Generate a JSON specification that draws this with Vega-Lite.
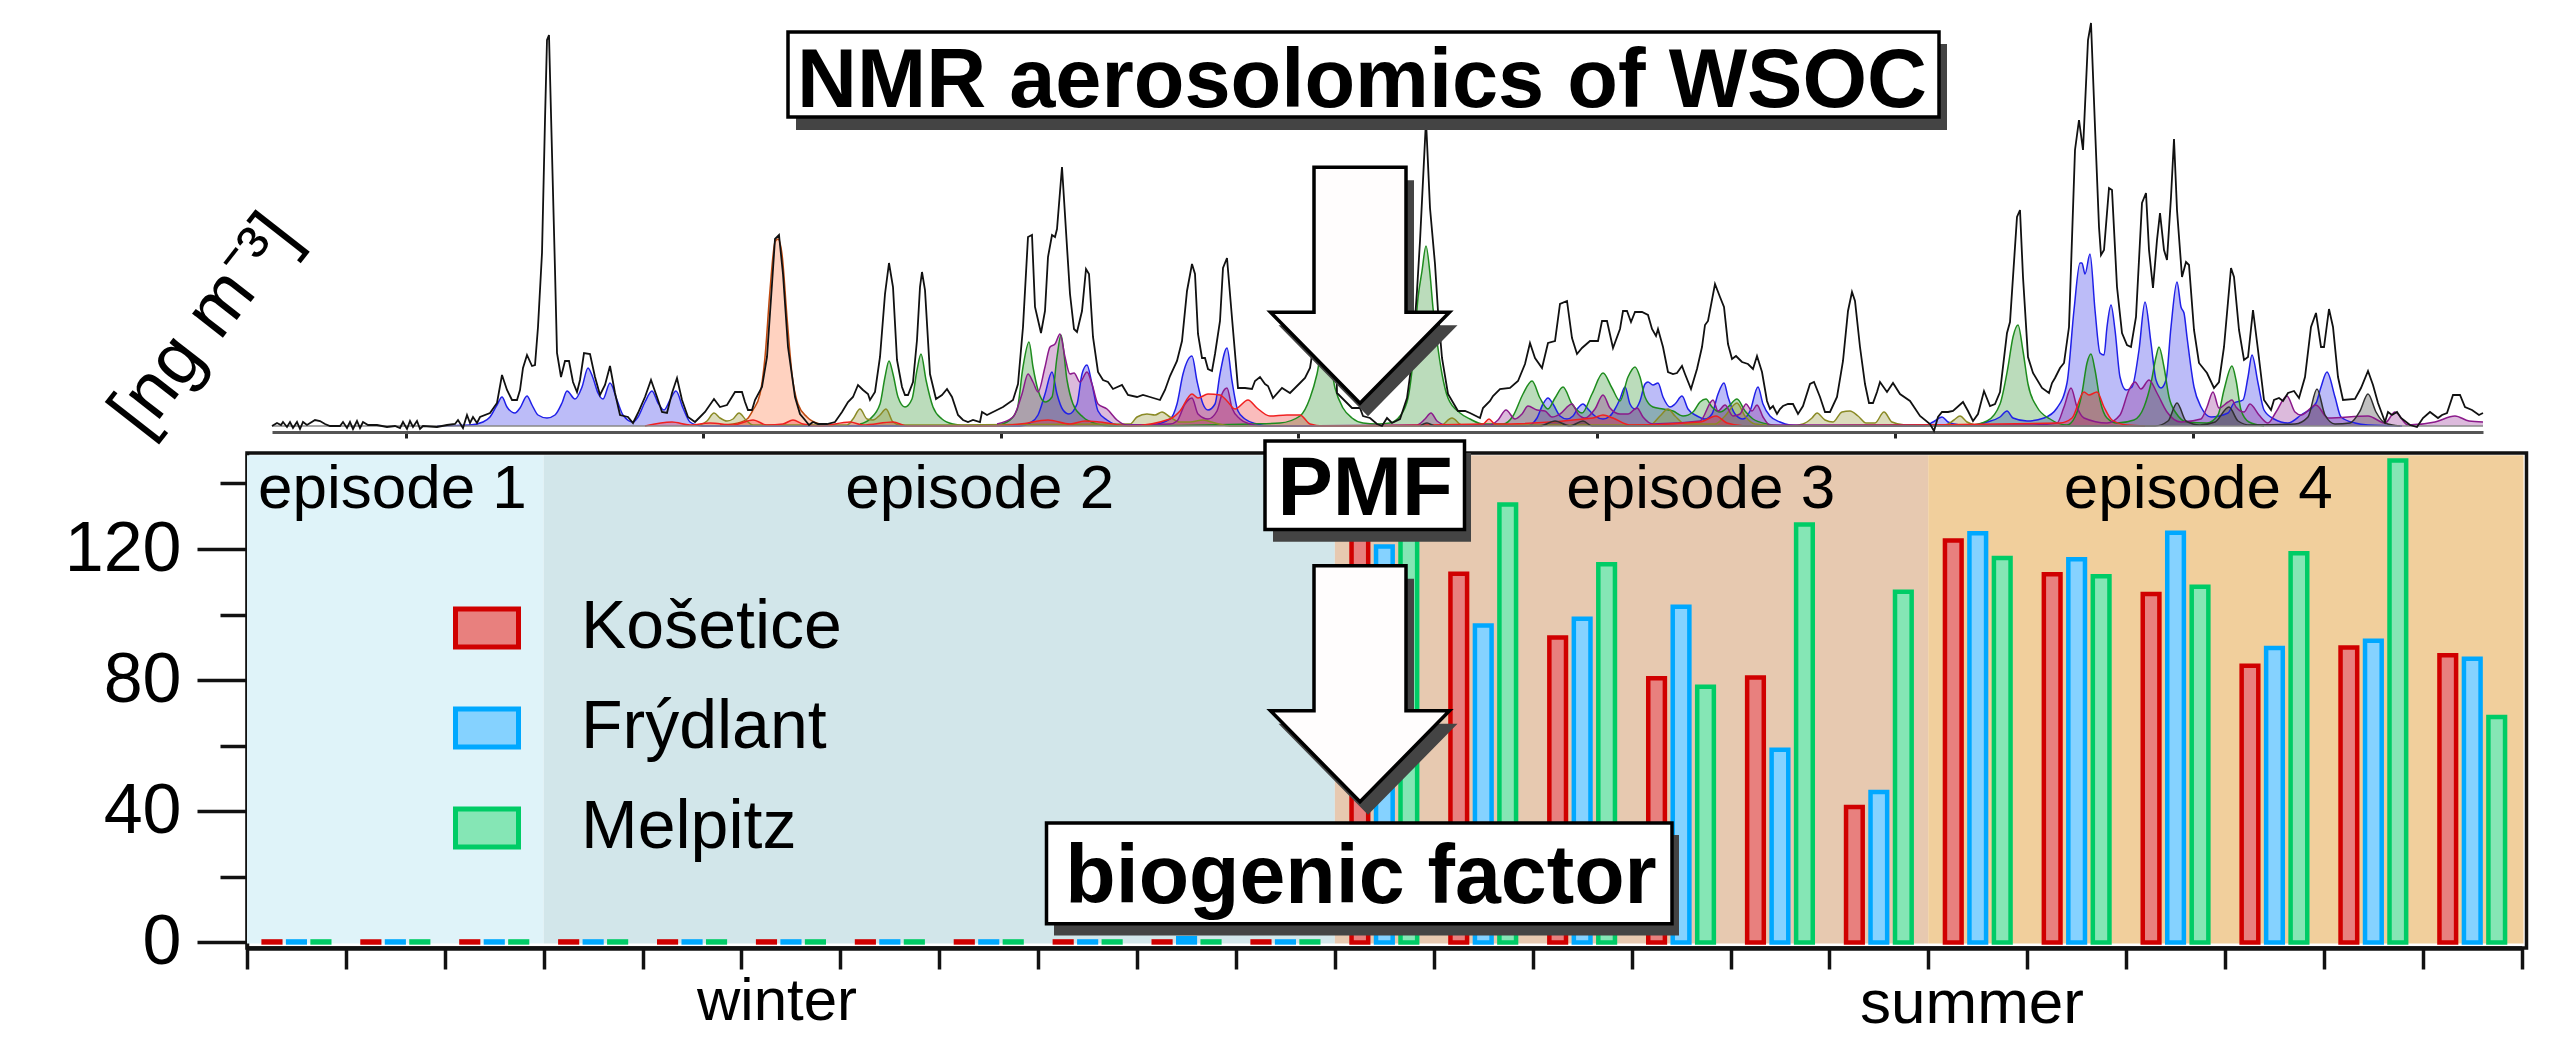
{"$schema":"https://vega.github.io/schema/vega-lite/v6.json","width":2279.5,"height":495,"autosize":{"type":"none"},"padding":{"left":247,"top":453,"right":33.5,"bottom":93},"background":"white","view":{"stroke":"#111111","strokeWidth":3.5,"fill":null},"config":{"font":"Liberation Sans","axis":{"grid":false,"title":null},"text":{"font":"Liberation Sans","color":"black"}},
"datasets":{
"note":[{"kind":"annotation"}],
"episodes":[{"episode":"episode 1","from":0,"to":3,"labelAt":1.47},{"episode":"episode 2","from":3,"to":11,"labelAt":7.41},{"episode":"episode 3","from":11,"to":17,"labelAt":14.7},{"episode":"episode 4","from":17,"to":23.02,"labelAt":19.73}],
"bars":[
{"sample":1,"station":"Košetice","value":0.3},{"sample":1,"station":"Frýdlant","value":0.3},{"sample":1,"station":"Melpitz","value":0.3},
{"sample":2,"station":"Košetice","value":0.3},{"sample":2,"station":"Frýdlant","value":0.3},{"sample":2,"station":"Melpitz","value":0.3},
{"sample":3,"station":"Košetice","value":0.3},{"sample":3,"station":"Frýdlant","value":0.3},{"sample":3,"station":"Melpitz","value":0.3},
{"sample":4,"station":"Košetice","value":0.3},{"sample":4,"station":"Frýdlant","value":0.3},{"sample":4,"station":"Melpitz","value":0.3},
{"sample":5,"station":"Košetice","value":0.3},{"sample":5,"station":"Frýdlant","value":0.3},{"sample":5,"station":"Melpitz","value":0.3},
{"sample":6,"station":"Košetice","value":0.3},{"sample":6,"station":"Frýdlant","value":0.3},{"sample":6,"station":"Melpitz","value":0.3},
{"sample":7,"station":"Košetice","value":0.3},{"sample":7,"station":"Frýdlant","value":0.3},{"sample":7,"station":"Melpitz","value":0.3},
{"sample":8,"station":"Košetice","value":0.3},{"sample":8,"station":"Frýdlant","value":0.3},{"sample":8,"station":"Melpitz","value":0.3},
{"sample":9,"station":"Košetice","value":0.3},{"sample":9,"station":"Frýdlant","value":0.3},{"sample":9,"station":"Melpitz","value":0.3},
{"sample":10,"station":"Košetice","value":0.3},{"sample":10,"station":"Frýdlant","value":1.3},{"sample":10,"station":"Melpitz","value":0.3},
{"sample":11,"station":"Košetice","value":0.3},{"sample":11,"station":"Frýdlant","value":0.3},{"sample":11,"station":"Melpitz","value":0.3},
{"sample":12,"station":"Košetice","value":123.6},{"sample":12,"station":"Frýdlant","value":120.8},{"sample":12,"station":"Melpitz","value":127},
{"sample":13,"station":"Košetice","value":112.5},{"sample":13,"station":"Frýdlant","value":96.7},{"sample":13,"station":"Melpitz","value":133.6},
{"sample":14,"station":"Košetice","value":93},{"sample":14,"station":"Frýdlant","value":98.7},{"sample":14,"station":"Melpitz","value":115.4},
{"sample":15,"station":"Košetice","value":80.6},{"sample":15,"station":"Frýdlant","value":102.4},{"sample":15,"station":"Melpitz","value":78},
{"sample":16,"station":"Košetice","value":80.8},{"sample":16,"station":"Frýdlant","value":58.8},{"sample":16,"station":"Melpitz","value":127.5},
{"sample":17,"station":"Košetice","value":41.3},{"sample":17,"station":"Frýdlant","value":45.9},{"sample":17,"station":"Melpitz","value":107},
{"sample":18,"station":"Košetice","value":122.6},{"sample":18,"station":"Frýdlant","value":124.8},{"sample":18,"station":"Melpitz","value":117.3},
{"sample":19,"station":"Košetice","value":112.3},{"sample":19,"station":"Frýdlant","value":116.9},{"sample":19,"station":"Melpitz","value":111.7},
{"sample":20,"station":"Košetice","value":106.3},{"sample":20,"station":"Frýdlant","value":125},{"sample":20,"station":"Melpitz","value":108.5},
{"sample":21,"station":"Košetice","value":84.4},{"sample":21,"station":"Frýdlant","value":89.8},{"sample":21,"station":"Melpitz","value":118.7},
{"sample":22,"station":"Košetice","value":90},{"sample":22,"station":"Frýdlant","value":92},{"sample":22,"station":"Melpitz","value":147},
{"sample":23,"station":"Košetice","value":87.6},{"sample":23,"station":"Frýdlant","value":86.5},{"sample":23,"station":"Melpitz","value":68.8}],
"minor":[{"tick":20},{"tick":60},{"tick":100},{"tick":140}],
"total":[{"ch":272,"i":0},{"ch":277,"i":3},{"ch":281,"i":1},{"ch":283,"i":4},{"ch":287,"i":-1},{"ch":290,"i":4},{"ch":293,"i":-2},{"ch":297,"i":4},{"ch":300,"i":-3},{"ch":303,"i":4},{"ch":307,"i":1},{"ch":315,"i":6},{"ch":320,"i":5},{"ch":325,"i":2},{"ch":330,"i":0},{"ch":340,"i":0},{"ch":343,"i":4},{"ch":347,"i":-2},{"ch":350,"i":4},{"ch":353,"i":-3},{"ch":357,"i":5},{"ch":360,"i":-2},{"ch":363,"i":4},{"ch":368,"i":1},{"ch":377,"i":1},{"ch":387,"i":-1},{"ch":395,"i":0},{"ch":400,"i":-2},{"ch":403,"i":4},{"ch":407,"i":-3},{"ch":410,"i":5},{"ch":413,"i":-1},{"ch":417,"i":5},{"ch":420,"i":-3},{"ch":423,"i":0},{"ch":437,"i":-1},{"ch":447,"i":1},{"ch":455,"i":2},{"ch":458,"i":6},{"ch":463,"i":-2},{"ch":467,"i":11},{"ch":470,"i":3},{"ch":473,"i":9},{"ch":477,"i":3},{"ch":480,"i":9},{"ch":490,"i":13},{"ch":497,"i":23},{"ch":502,"i":51},{"ch":507,"i":36},{"ch":512,"i":26},{"ch":517,"i":26},{"ch":520,"i":36},{"ch":523,"i":58},{"ch":527,"i":71},{"ch":532,"i":60},{"ch":535,"i":61},{"ch":538,"i":99},{"ch":542,"i":173},{"ch":545,"i":306},{"ch":547,"i":386},{"ch":549,"i":391},{"ch":552,"i":273},{"ch":555,"i":156},{"ch":557,"i":73},{"ch":561,"i":49},{"ch":565,"i":65},{"ch":569,"i":65},{"ch":573,"i":44},{"ch":577,"i":34},{"ch":580,"i":46},{"ch":584,"i":73},{"ch":590,"i":72},{"ch":595,"i":49},{"ch":600,"i":31},{"ch":605,"i":41},{"ch":610,"i":60},{"ch":615,"i":33},{"ch":620,"i":11},{"ch":628,"i":9},{"ch":633,"i":3},{"ch":638,"i":13},{"ch":645,"i":29},{"ch":651,"i":46},{"ch":657,"i":29},{"ch":662,"i":14},{"ch":667,"i":13},{"ch":672,"i":33},{"ch":677,"i":48},{"ch":682,"i":26},{"ch":688,"i":9},{"ch":695,"i":4},{"ch":700,"i":9},{"ch":705,"i":14},{"ch":714,"i":27},{"ch":720,"i":19},{"ch":727,"i":21},{"ch":735,"i":34},{"ch":742,"i":34},{"ch":745,"i":24},{"ch":748,"i":16},{"ch":752,"i":16},{"ch":755,"i":26},{"ch":762,"i":39},{"ch":767,"i":69},{"ch":772,"i":142},{"ch":775,"i":187},{"ch":779,"i":191},{"ch":783,"i":152},{"ch":788,"i":79},{"ch":795,"i":29},{"ch":800,"i":12},{"ch":805,"i":6},{"ch":809,"i":1},{"ch":813,"i":4},{"ch":818,"i":2},{"ch":827,"i":2},{"ch":835,"i":4},{"ch":842,"i":14},{"ch":848,"i":24},{"ch":853,"i":29},{"ch":858,"i":41},{"ch":863,"i":36},{"ch":868,"i":32},{"ch":870,"i":26},{"ch":875,"i":34},{"ch":880,"i":69},{"ch":885,"i":132},{"ch":889,"i":163},{"ch":893,"i":139},{"ch":897,"i":66},{"ch":902,"i":39},{"ch":905,"i":31},{"ch":908,"i":31},{"ch":913,"i":44},{"ch":917,"i":86},{"ch":920,"i":139},{"ch":922,"i":154},{"ch":925,"i":136},{"ch":930,"i":52},{"ch":936,"i":27},{"ch":942,"i":31},{"ch":947,"i":37},{"ch":952,"i":29},{"ch":958,"i":11},{"ch":963,"i":6},{"ch":968,"i":4},{"ch":973,"i":6},{"ch":980,"i":4},{"ch":982,"i":14},{"ch":987,"i":11},{"ch":993,"i":14},{"ch":1003,"i":19},{"ch":1013,"i":26},{"ch":1018,"i":42},{"ch":1023,"i":99},{"ch":1028,"i":189},{"ch":1032,"i":191},{"ch":1035,"i":119},{"ch":1041,"i":93},{"ch":1045,"i":115},{"ch":1048,"i":169},{"ch":1052,"i":191},{"ch":1055,"i":189},{"ch":1057,"i":197},{"ch":1062,"i":259},{"ch":1067,"i":179},{"ch":1070,"i":132},{"ch":1074,"i":97},{"ch":1077,"i":94},{"ch":1082,"i":115},{"ch":1086,"i":157},{"ch":1089,"i":152},{"ch":1093,"i":89},{"ch":1098,"i":54},{"ch":1103,"i":46},{"ch":1108,"i":44},{"ch":1113,"i":37},{"ch":1122,"i":41},{"ch":1128,"i":31},{"ch":1137,"i":29},{"ch":1143,"i":31},{"ch":1150,"i":29},{"ch":1160,"i":26},{"ch":1165,"i":36},{"ch":1170,"i":50},{"ch":1177,"i":65},{"ch":1182,"i":85},{"ch":1187,"i":135},{"ch":1192,"i":162},{"ch":1195,"i":152},{"ch":1198,"i":92},{"ch":1202,"i":68},{"ch":1205,"i":68},{"ch":1208,"i":57},{"ch":1212,"i":55},{"ch":1215,"i":72},{"ch":1220,"i":105},{"ch":1223,"i":158},{"ch":1227,"i":168},{"ch":1232,"i":108},{"ch":1238,"i":38},{"ch":1245,"i":38},{"ch":1252,"i":37},{"ch":1255,"i":45},{"ch":1260,"i":49},{"ch":1265,"i":42},{"ch":1268,"i":40},{"ch":1273,"i":28},{"ch":1282,"i":38},{"ch":1290,"i":33},{"ch":1300,"i":43},{"ch":1305,"i":48},{"ch":1310,"i":58},{"ch":1320,"i":120},{"ch":1326,"i":200},{"ch":1335,"i":120},{"ch":1337,"i":33},{"ch":1343,"i":27},{"ch":1352,"i":18},{"ch":1360,"i":18},{"ch":1363,"i":10},{"ch":1370,"i":8},{"ch":1377,"i":2},{"ch":1382,"i":0},{"ch":1387,"i":8},{"ch":1392,"i":3},{"ch":1400,"i":7},{"ch":1407,"i":28},{"ch":1412,"i":65},{"ch":1417,"i":135},{"ch":1420,"i":185},{"ch":1426,"i":306},{"ch":1430,"i":218},{"ch":1435,"i":162},{"ch":1438,"i":115},{"ch":1442,"i":68},{"ch":1448,"i":32},{"ch":1458,"i":15},{"ch":1465,"i":15},{"ch":1470,"i":13},{"ch":1480,"i":8},{"ch":1483,"i":18},{"ch":1490,"i":25},{"ch":1493,"i":30},{"ch":1500,"i":37},{"ch":1510,"i":38},{"ch":1518,"i":45},{"ch":1525,"i":62},{"ch":1530,"i":83},{"ch":1535,"i":68},{"ch":1542,"i":58},{"ch":1548,"i":83},{"ch":1555,"i":85},{"ch":1560,"i":122},{"ch":1567,"i":125},{"ch":1572,"i":88},{"ch":1577,"i":72},{"ch":1582,"i":78},{"ch":1590,"i":85},{"ch":1598,"i":85},{"ch":1602,"i":105},{"ch":1607,"i":105},{"ch":1613,"i":78},{"ch":1620,"i":97},{"ch":1623,"i":115},{"ch":1627,"i":115},{"ch":1631,"i":104},{"ch":1635,"i":114},{"ch":1642,"i":114},{"ch":1648,"i":111},{"ch":1652,"i":97},{"ch":1656,"i":90},{"ch":1658,"i":97},{"ch":1663,"i":79},{"ch":1668,"i":54},{"ch":1673,"i":52},{"ch":1677,"i":53},{"ch":1682,"i":60},{"ch":1685,"i":52},{"ch":1691,"i":37},{"ch":1697,"i":57},{"ch":1702,"i":79},{"ch":1705,"i":101},{"ch":1708,"i":105},{"ch":1715,"i":142},{"ch":1720,"i":129},{"ch":1724,"i":119},{"ch":1728,"i":82},{"ch":1732,"i":67},{"ch":1736,"i":70},{"ch":1742,"i":64},{"ch":1748,"i":62},{"ch":1753,"i":57},{"ch":1757,"i":70},{"ch":1762,"i":54},{"ch":1767,"i":25},{"ch":1770,"i":17},{"ch":1773,"i":20},{"ch":1777,"i":12},{"ch":1780,"i":17},{"ch":1783,"i":20},{"ch":1788,"i":22},{"ch":1793,"i":22},{"ch":1798,"i":12},{"ch":1803,"i":20},{"ch":1810,"i":42},{"ch":1814,"i":44},{"ch":1820,"i":29},{"ch":1825,"i":14},{"ch":1830,"i":14},{"ch":1837,"i":29},{"ch":1843,"i":65},{"ch":1848,"i":115},{"ch":1852,"i":134},{"ch":1855,"i":125},{"ch":1860,"i":79},{"ch":1865,"i":42},{"ch":1869,"i":23},{"ch":1873,"i":23},{"ch":1877,"i":34},{"ch":1880,"i":44},{"ch":1887,"i":34},{"ch":1893,"i":43},{"ch":1900,"i":32},{"ch":1910,"i":25},{"ch":1920,"i":10},{"ch":1930,"i":2},{"ch":1934,"i":-5},{"ch":1938,"i":9},{"ch":1942,"i":14},{"ch":1948,"i":14},{"ch":1953,"i":15},{"ch":1963,"i":24},{"ch":1968,"i":15},{"ch":1973,"i":5},{"ch":1978,"i":12},{"ch":1984,"i":35},{"ch":1990,"i":20},{"ch":1995,"i":22},{"ch":2000,"i":34},{"ch":2007,"i":93},{"ch":2010,"i":104},{"ch":2017,"i":209},{"ch":2020,"i":216},{"ch":2023,"i":149},{"ch":2028,"i":69},{"ch":2033,"i":53},{"ch":2042,"i":38},{"ch":2049,"i":33},{"ch":2052,"i":43},{"ch":2055,"i":48},{"ch":2060,"i":58},{"ch":2064,"i":63},{"ch":2069,"i":99},{"ch":2075,"i":276},{"ch":2079,"i":306},{"ch":2083,"i":276},{"ch":2088,"i":386},{"ch":2091,"i":403},{"ch":2095,"i":299},{"ch":2099,"i":199},{"ch":2101,"i":171},{"ch":2104,"i":176},{"ch":2109,"i":238},{"ch":2112,"i":236},{"ch":2117,"i":139},{"ch":2122,"i":93},{"ch":2127,"i":81},{"ch":2131,"i":79},{"ch":2136,"i":109},{"ch":2142,"i":223},{"ch":2146,"i":233},{"ch":2149,"i":176},{"ch":2153,"i":138},{"ch":2157,"i":186},{"ch":2160,"i":213},{"ch":2164,"i":176},{"ch":2167,"i":166},{"ch":2171,"i":229},{"ch":2174,"i":287},{"ch":2177,"i":216},{"ch":2182,"i":149},{"ch":2186,"i":164},{"ch":2189,"i":161},{"ch":2194,"i":96},{"ch":2199,"i":63},{"ch":2207,"i":53},{"ch":2214,"i":38},{"ch":2219,"i":44},{"ch":2224,"i":79},{"ch":2231,"i":158},{"ch":2234,"i":149},{"ch":2239,"i":96},{"ch":2244,"i":66},{"ch":2248,"i":69},{"ch":2253,"i":116},{"ch":2258,"i":76},{"ch":2264,"i":26},{"ch":2271,"i":16},{"ch":2274,"i":26},{"ch":2279,"i":28},{"ch":2283,"i":25},{"ch":2288,"i":33},{"ch":2294,"i":35},{"ch":2299,"i":28},{"ch":2305,"i":49},{"ch":2311,"i":99},{"ch":2316,"i":113},{"ch":2321,"i":79},{"ch":2324,"i":79},{"ch":2329,"i":117},{"ch":2333,"i":99},{"ch":2338,"i":49},{"ch":2343,"i":26},{"ch":2355,"i":27},{"ch":2361,"i":38},{"ch":2368,"i":55},{"ch":2373,"i":41},{"ch":2378,"i":23},{"ch":2385,"i":4},{"ch":2388,"i":14},{"ch":2392,"i":11},{"ch":2397,"i":14},{"ch":2401,"i":8},{"ch":2410,"i":1},{"ch":2417,"i":-1},{"ch":2423,"i":8},{"ch":2430,"i":14},{"ch":2438,"i":8},{"ch":2442,"i":11},{"ch":2447,"i":13},{"ch":2453,"i":31},{"ch":2460,"i":31},{"ch":2465,"i":19},{"ch":2472,"i":16},{"ch":2479,"i":11},{"ch":2483,"i":13}],
"factors":[
{"factor":"blue","ch":437,"i":0},{"factor":"blue","ch":470,"i":1},{"factor":"blue","ch":483,"i":4},{"factor":"blue","ch":490,"i":9},{"factor":"blue","ch":497,"i":21},{"factor":"blue","ch":502,"i":29},{"factor":"blue","ch":507,"i":19},{"factor":"blue","ch":515,"i":13},{"factor":"blue","ch":520,"i":18},{"factor":"blue","ch":527,"i":30},{"factor":"blue","ch":532,"i":21},{"factor":"blue","ch":538,"i":11},{"factor":"blue","ch":547,"i":8},{"factor":"blue","ch":555,"i":11},{"factor":"blue","ch":562,"i":23},{"factor":"blue","ch":567,"i":35},{"factor":"blue","ch":575,"i":27},{"factor":"blue","ch":582,"i":39},{"factor":"blue","ch":588,"i":58},{"factor":"blue","ch":593,"i":48},{"factor":"blue","ch":598,"i":33},{"factor":"blue","ch":603,"i":27},{"factor":"blue","ch":610,"i":43},{"factor":"blue","ch":617,"i":26},{"factor":"blue","ch":623,"i":11},{"factor":"blue","ch":633,"i":4},{"factor":"blue","ch":638,"i":9},{"factor":"blue","ch":645,"i":24},{"factor":"blue","ch":652,"i":35},{"factor":"blue","ch":658,"i":23},{"factor":"blue","ch":664,"i":16},{"factor":"blue","ch":670,"i":26},{"factor":"blue","ch":676,"i":35},{"factor":"blue","ch":683,"i":18},{"factor":"blue","ch":690,"i":4},{"factor":"blue","ch":697,"i":1},{"factor":"blue","ch":703,"i":0},{"factor":"blue","ch":1020,"i":0},{"factor":"blue","ch":1030,"i":3},{"factor":"blue","ch":1038,"i":11},{"factor":"blue","ch":1045,"i":32},{"factor":"blue","ch":1052,"i":54},{"factor":"blue","ch":1057,"i":32},{"factor":"blue","ch":1063,"i":16},{"factor":"blue","ch":1069,"i":12},{"factor":"blue","ch":1077,"i":22},{"factor":"blue","ch":1082,"i":52},{"factor":"blue","ch":1087,"i":61},{"factor":"blue","ch":1092,"i":42},{"factor":"blue","ch":1098,"i":15},{"factor":"blue","ch":1107,"i":6},{"factor":"blue","ch":1120,"i":1},{"factor":"blue","ch":1150,"i":1},{"factor":"blue","ch":1170,"i":7},{"factor":"blue","ch":1177,"i":22},{"factor":"blue","ch":1183,"i":52},{"factor":"blue","ch":1192,"i":70},{"factor":"blue","ch":1197,"i":45},{"factor":"blue","ch":1203,"i":22},{"factor":"blue","ch":1208,"i":16},{"factor":"blue","ch":1215,"i":22},{"factor":"blue","ch":1220,"i":52},{"factor":"blue","ch":1227,"i":78},{"factor":"blue","ch":1232,"i":45},{"factor":"blue","ch":1238,"i":15},{"factor":"blue","ch":1245,"i":7},{"factor":"blue","ch":1257,"i":2},{"factor":"blue","ch":1270,"i":0},{"factor":"blue","ch":1527,"i":0},{"factor":"blue","ch":1537,"i":8},{"factor":"blue","ch":1543,"i":22},{"factor":"blue","ch":1548,"i":28},{"factor":"blue","ch":1553,"i":22},{"factor":"blue","ch":1560,"i":10},{"factor":"blue","ch":1567,"i":7},{"factor":"blue","ch":1573,"i":10},{"factor":"blue","ch":1578,"i":18},{"factor":"blue","ch":1583,"i":22},{"factor":"blue","ch":1588,"i":17},{"factor":"blue","ch":1595,"i":10},{"factor":"blue","ch":1603,"i":7},{"factor":"blue","ch":1610,"i":10},{"factor":"blue","ch":1615,"i":17},{"factor":"blue","ch":1620,"i":27},{"factor":"blue","ch":1625,"i":39},{"factor":"blue","ch":1630,"i":22},{"factor":"blue","ch":1635,"i":17},{"factor":"blue","ch":1640,"i":25},{"factor":"blue","ch":1645,"i":42},{"factor":"blue","ch":1648,"i":44},{"factor":"blue","ch":1653,"i":41},{"factor":"blue","ch":1658,"i":43},{"factor":"blue","ch":1663,"i":29},{"factor":"blue","ch":1670,"i":19},{"factor":"blue","ch":1675,"i":22},{"factor":"blue","ch":1682,"i":30},{"factor":"blue","ch":1688,"i":17},{"factor":"blue","ch":1697,"i":10},{"factor":"blue","ch":1705,"i":7},{"factor":"blue","ch":1712,"i":12},{"factor":"blue","ch":1718,"i":32},{"factor":"blue","ch":1724,"i":43},{"factor":"blue","ch":1728,"i":29},{"factor":"blue","ch":1735,"i":12},{"factor":"blue","ch":1743,"i":7},{"factor":"blue","ch":1750,"i":15},{"factor":"blue","ch":1758,"i":39},{"factor":"blue","ch":1763,"i":22},{"factor":"blue","ch":1770,"i":10},{"factor":"blue","ch":1780,"i":4},{"factor":"blue","ch":1790,"i":1},{"factor":"blue","ch":1807,"i":0},{"factor":"blue","ch":1923,"i":0},{"factor":"blue","ch":1933,"i":4},{"factor":"blue","ch":1942,"i":9},{"factor":"blue","ch":1948,"i":4},{"factor":"blue","ch":1960,"i":1},{"factor":"blue","ch":1973,"i":1},{"factor":"blue","ch":1987,"i":4},{"factor":"blue","ch":2000,"i":9},{"factor":"blue","ch":2007,"i":15},{"factor":"blue","ch":2013,"i":8},{"factor":"blue","ch":2027,"i":5},{"factor":"blue","ch":2044,"i":8},{"factor":"blue","ch":2057,"i":18},{"factor":"blue","ch":2067,"i":43},{"factor":"blue","ch":2074,"i":116},{"factor":"blue","ch":2080,"i":163},{"factor":"blue","ch":2082,"i":163},{"factor":"blue","ch":2085,"i":152},{"factor":"blue","ch":2090,"i":172},{"factor":"blue","ch":2095,"i":116},{"factor":"blue","ch":2100,"i":73},{"factor":"blue","ch":2104,"i":71},{"factor":"blue","ch":2107,"i":99},{"factor":"blue","ch":2111,"i":121},{"factor":"blue","ch":2115,"i":96},{"factor":"blue","ch":2120,"i":49},{"factor":"blue","ch":2126,"i":36},{"factor":"blue","ch":2132,"i":39},{"factor":"blue","ch":2139,"i":76},{"factor":"blue","ch":2145,"i":124},{"factor":"blue","ch":2151,"i":83},{"factor":"blue","ch":2156,"i":46},{"factor":"blue","ch":2161,"i":38},{"factor":"blue","ch":2166,"i":46},{"factor":"blue","ch":2171,"i":99},{"factor":"blue","ch":2177,"i":144},{"factor":"blue","ch":2181,"i":119},{"factor":"blue","ch":2184,"i":113},{"factor":"blue","ch":2187,"i":89},{"factor":"blue","ch":2194,"i":39},{"factor":"blue","ch":2201,"i":19},{"factor":"blue","ch":2211,"i":9},{"factor":"blue","ch":2228,"i":13},{"factor":"blue","ch":2234,"i":23},{"factor":"blue","ch":2243,"i":26},{"factor":"blue","ch":2248,"i":49},{"factor":"blue","ch":2252,"i":71},{"factor":"blue","ch":2258,"i":43},{"factor":"blue","ch":2264,"i":16},{"factor":"blue","ch":2274,"i":7},{"factor":"blue","ch":2288,"i":3},{"factor":"blue","ch":2301,"i":11},{"factor":"blue","ch":2316,"i":23},{"factor":"blue","ch":2321,"i":39},{"factor":"blue","ch":2327,"i":54},{"factor":"blue","ch":2335,"i":29},{"factor":"blue","ch":2341,"i":9},{"factor":"blue","ch":2355,"i":3},{"factor":"blue","ch":2368,"i":1},{"factor":"blue","ch":2402,"i":0},
{"factor":"green","ch":860,"i":2},{"factor":"green","ch":870,"i":7},{"factor":"green","ch":880,"i":22},{"factor":"green","ch":885,"i":49},{"factor":"green","ch":889,"i":65},{"factor":"green","ch":893,"i":52},{"factor":"green","ch":898,"i":29},{"factor":"green","ch":905,"i":19},{"factor":"green","ch":912,"i":27},{"factor":"green","ch":917,"i":56},{"factor":"green","ch":921,"i":72},{"factor":"green","ch":926,"i":46},{"factor":"green","ch":933,"i":19},{"factor":"green","ch":942,"i":7},{"factor":"green","ch":953,"i":2},{"factor":"green","ch":970,"i":0},{"factor":"green","ch":997,"i":1},{"factor":"green","ch":1007,"i":4},{"factor":"green","ch":1017,"i":16},{"factor":"green","ch":1023,"i":59},{"factor":"green","ch":1029,"i":84},{"factor":"green","ch":1033,"i":59},{"factor":"green","ch":1038,"i":36},{"factor":"green","ch":1045,"i":24},{"factor":"green","ch":1052,"i":29},{"factor":"green","ch":1057,"i":69},{"factor":"green","ch":1061,"i":91},{"factor":"green","ch":1067,"i":46},{"factor":"green","ch":1073,"i":22},{"factor":"green","ch":1083,"i":9},{"factor":"green","ch":1097,"i":2},{"factor":"green","ch":1110,"i":0},{"factor":"green","ch":1253,"i":2},{"factor":"green","ch":1280,"i":3},{"factor":"green","ch":1300,"i":10},{"factor":"green","ch":1310,"i":28},{"factor":"green","ch":1317,"i":52},{"factor":"green","ch":1325,"i":95},{"factor":"green","ch":1335,"i":38},{"factor":"green","ch":1343,"i":18},{"factor":"green","ch":1352,"i":8},{"factor":"green","ch":1363,"i":3},{"factor":"green","ch":1377,"i":2},{"factor":"green","ch":1390,"i":3},{"factor":"green","ch":1400,"i":10},{"factor":"green","ch":1408,"i":28},{"factor":"green","ch":1413,"i":65},{"factor":"green","ch":1418,"i":128},{"factor":"green","ch":1422,"i":155},{"factor":"green","ch":1426,"i":180},{"factor":"green","ch":1430,"i":152},{"factor":"green","ch":1433,"i":118},{"factor":"green","ch":1437,"i":85},{"factor":"green","ch":1442,"i":52},{"factor":"green","ch":1448,"i":28},{"factor":"green","ch":1460,"i":13},{"factor":"green","ch":1470,"i":7},{"factor":"green","ch":1483,"i":2},{"factor":"green","ch":1503,"i":2},{"factor":"green","ch":1513,"i":10},{"factor":"green","ch":1523,"i":32},{"factor":"green","ch":1532,"i":45},{"factor":"green","ch":1540,"i":28},{"factor":"green","ch":1548,"i":17},{"factor":"green","ch":1555,"i":28},{"factor":"green","ch":1563,"i":39},{"factor":"green","ch":1572,"i":22},{"factor":"green","ch":1582,"i":13},{"factor":"green","ch":1592,"i":32},{"factor":"green","ch":1603,"i":53},{"factor":"green","ch":1612,"i":38},{"factor":"green","ch":1620,"i":25},{"factor":"green","ch":1628,"i":49},{"factor":"green","ch":1635,"i":59},{"factor":"green","ch":1640,"i":49},{"factor":"green","ch":1645,"i":29},{"factor":"green","ch":1653,"i":19},{"factor":"green","ch":1663,"i":17},{"factor":"green","ch":1673,"i":15},{"factor":"green","ch":1683,"i":10},{"factor":"green","ch":1693,"i":14},{"factor":"green","ch":1700,"i":24},{"factor":"green","ch":1706,"i":27},{"factor":"green","ch":1712,"i":19},{"factor":"green","ch":1720,"i":14},{"factor":"green","ch":1728,"i":19},{"factor":"green","ch":1737,"i":27},{"factor":"green","ch":1745,"i":15},{"factor":"green","ch":1753,"i":7},{"factor":"green","ch":1767,"i":2},{"factor":"green","ch":1780,"i":0},{"factor":"green","ch":1970,"i":1},{"factor":"green","ch":1987,"i":5},{"factor":"green","ch":2000,"i":22},{"factor":"green","ch":2008,"i":59},{"factor":"green","ch":2013,"i":89},{"factor":"green","ch":2018,"i":101},{"factor":"green","ch":2023,"i":75},{"factor":"green","ch":2028,"i":42},{"factor":"green","ch":2037,"i":19},{"factor":"green","ch":2050,"i":7},{"factor":"green","ch":2067,"i":1},{"factor":"green","ch":2075,"i":9},{"factor":"green","ch":2082,"i":33},{"factor":"green","ch":2087,"i":63},{"factor":"green","ch":2091,"i":72},{"factor":"green","ch":2095,"i":56},{"factor":"green","ch":2100,"i":26},{"factor":"green","ch":2107,"i":8},{"factor":"green","ch":2117,"i":3},{"factor":"green","ch":2134,"i":6},{"factor":"green","ch":2144,"i":19},{"factor":"green","ch":2151,"i":43},{"factor":"green","ch":2156,"i":69},{"factor":"green","ch":2159,"i":79},{"factor":"green","ch":2164,"i":59},{"factor":"green","ch":2169,"i":29},{"factor":"green","ch":2176,"i":13},{"factor":"green","ch":2187,"i":4},{"factor":"green","ch":2207,"i":3},{"factor":"green","ch":2218,"i":11},{"factor":"green","ch":2224,"i":36},{"factor":"green","ch":2232,"i":60},{"factor":"green","ch":2236,"i":46},{"factor":"green","ch":2241,"i":16},{"factor":"green","ch":2249,"i":4},{"factor":"green","ch":2264,"i":0},
{"factor":"orange","ch":720,"i":1},{"factor":"orange","ch":733,"i":2},{"factor":"orange","ch":747,"i":7},{"factor":"orange","ch":753,"i":16},{"factor":"orange","ch":760,"i":32},{"factor":"orange","ch":765,"i":69},{"factor":"orange","ch":770,"i":136},{"factor":"orange","ch":775,"i":184},{"factor":"orange","ch":778,"i":187},{"factor":"orange","ch":782,"i":172},{"factor":"orange","ch":787,"i":109},{"factor":"orange","ch":792,"i":52},{"factor":"orange","ch":798,"i":22},{"factor":"orange","ch":807,"i":9},{"factor":"orange","ch":820,"i":2},{"factor":"orange","ch":833,"i":0},
{"factor":"olive","ch":700,"i":1},{"factor":"olive","ch":707,"i":5},{"factor":"olive","ch":714,"i":13},{"factor":"olive","ch":720,"i":8},{"factor":"olive","ch":727,"i":5},{"factor":"olive","ch":733,"i":7},{"factor":"olive","ch":739,"i":13},{"factor":"olive","ch":746,"i":6},{"factor":"olive","ch":753,"i":1},{"factor":"olive","ch":847,"i":1},{"factor":"olive","ch":853,"i":7},{"factor":"olive","ch":860,"i":17},{"factor":"olive","ch":867,"i":7},{"factor":"olive","ch":873,"i":6},{"factor":"olive","ch":880,"i":11},{"factor":"olive","ch":886,"i":17},{"factor":"olive","ch":893,"i":4},{"factor":"olive","ch":900,"i":1},{"factor":"olive","ch":1130,"i":2},{"factor":"olive","ch":1137,"i":9},{"factor":"olive","ch":1147,"i":12},{"factor":"olive","ch":1155,"i":11},{"factor":"olive","ch":1162,"i":14},{"factor":"olive","ch":1170,"i":9},{"factor":"olive","ch":1180,"i":4},{"factor":"olive","ch":1190,"i":4},{"factor":"olive","ch":1203,"i":6},{"factor":"olive","ch":1215,"i":3},{"factor":"olive","ch":1230,"i":0},{"factor":"olive","ch":1440,"i":0},{"factor":"olive","ch":1452,"i":8},{"factor":"olive","ch":1462,"i":1},{"factor":"olive","ch":1650,"i":1},{"factor":"olive","ch":1660,"i":10},{"factor":"olive","ch":1668,"i":17},{"factor":"olive","ch":1675,"i":10},{"factor":"olive","ch":1685,"i":2},{"factor":"olive","ch":1715,"i":2},{"factor":"olive","ch":1725,"i":10},{"factor":"olive","ch":1737,"i":23},{"factor":"olive","ch":1745,"i":10},{"factor":"olive","ch":1755,"i":2},{"factor":"olive","ch":1790,"i":0},{"factor":"olive","ch":1803,"i":2},{"factor":"olive","ch":1812,"i":8},{"factor":"olive","ch":1817,"i":13},{"factor":"olive","ch":1825,"i":6},{"factor":"olive","ch":1833,"i":4},{"factor":"olive","ch":1842,"i":14},{"factor":"olive","ch":1850,"i":15},{"factor":"olive","ch":1858,"i":10},{"factor":"olive","ch":1866,"i":3},{"factor":"olive","ch":1875,"i":3},{"factor":"olive","ch":1884,"i":14},{"factor":"olive","ch":1892,"i":4},{"factor":"olive","ch":1905,"i":1},{"factor":"olive","ch":1945,"i":1},{"factor":"olive","ch":1954,"i":6},{"factor":"olive","ch":1960,"i":10},{"factor":"olive","ch":1967,"i":4},{"factor":"olive","ch":1975,"i":1},
{"factor":"purple","ch":997,"i":2},{"factor":"purple","ch":1013,"i":9},{"factor":"purple","ch":1022,"i":32},{"factor":"purple","ch":1028,"i":52},{"factor":"purple","ch":1033,"i":44},{"factor":"purple","ch":1038,"i":34},{"factor":"purple","ch":1045,"i":59},{"factor":"purple","ch":1050,"i":79},{"factor":"purple","ch":1055,"i":82},{"factor":"purple","ch":1060,"i":92},{"factor":"purple","ch":1065,"i":69},{"factor":"purple","ch":1070,"i":52},{"factor":"purple","ch":1074,"i":53},{"factor":"purple","ch":1080,"i":44},{"factor":"purple","ch":1087,"i":54},{"factor":"purple","ch":1092,"i":42},{"factor":"purple","ch":1098,"i":22},{"factor":"purple","ch":1107,"i":17},{"factor":"purple","ch":1117,"i":6},{"factor":"purple","ch":1127,"i":1},{"factor":"purple","ch":1170,"i":2},{"factor":"purple","ch":1177,"i":5},{"factor":"purple","ch":1185,"i":22},{"factor":"purple","ch":1192,"i":28},{"factor":"purple","ch":1198,"i":12},{"factor":"purple","ch":1208,"i":7},{"factor":"purple","ch":1217,"i":15},{"factor":"purple","ch":1222,"i":32},{"factor":"purple","ch":1227,"i":38},{"factor":"purple","ch":1232,"i":18},{"factor":"purple","ch":1240,"i":7},{"factor":"purple","ch":1250,"i":2},{"factor":"purple","ch":1262,"i":0},{"factor":"purple","ch":1417,"i":1},{"factor":"purple","ch":1425,"i":7},{"factor":"purple","ch":1431,"i":13},{"factor":"purple","ch":1437,"i":5},{"factor":"purple","ch":1447,"i":1},{"factor":"purple","ch":1490,"i":1},{"factor":"purple","ch":1498,"i":6},{"factor":"purple","ch":1506,"i":16},{"factor":"purple","ch":1515,"i":7},{"factor":"purple","ch":1522,"i":12},{"factor":"purple","ch":1528,"i":20},{"factor":"purple","ch":1537,"i":16},{"factor":"purple","ch":1545,"i":15},{"factor":"purple","ch":1552,"i":9},{"factor":"purple","ch":1560,"i":12},{"factor":"purple","ch":1572,"i":22},{"factor":"purple","ch":1578,"i":12},{"factor":"purple","ch":1585,"i":8},{"factor":"purple","ch":1595,"i":17},{"factor":"purple","ch":1603,"i":31},{"factor":"purple","ch":1610,"i":18},{"factor":"purple","ch":1620,"i":12},{"factor":"purple","ch":1628,"i":12},{"factor":"purple","ch":1637,"i":18},{"factor":"purple","ch":1643,"i":9},{"factor":"purple","ch":1653,"i":2},{"factor":"purple","ch":1700,"i":5},{"factor":"purple","ch":1713,"i":26},{"factor":"purple","ch":1718,"i":15},{"factor":"purple","ch":1725,"i":21},{"factor":"purple","ch":1733,"i":10},{"factor":"purple","ch":1740,"i":12},{"factor":"purple","ch":1746,"i":22},{"factor":"purple","ch":1752,"i":15},{"factor":"purple","ch":1757,"i":21},{"factor":"purple","ch":1763,"i":9},{"factor":"purple","ch":1770,"i":1},{"factor":"purple","ch":2033,"i":1},{"factor":"purple","ch":2057,"i":3},{"factor":"purple","ch":2064,"i":19},{"factor":"purple","ch":2071,"i":38},{"factor":"purple","ch":2077,"i":19},{"factor":"purple","ch":2084,"i":8},{"factor":"purple","ch":2107,"i":3},{"factor":"purple","ch":2120,"i":11},{"factor":"purple","ch":2129,"i":36},{"factor":"purple","ch":2135,"i":44},{"factor":"purple","ch":2141,"i":37},{"factor":"purple","ch":2149,"i":46},{"factor":"purple","ch":2157,"i":33},{"factor":"purple","ch":2167,"i":14},{"factor":"purple","ch":2181,"i":4},{"factor":"purple","ch":2201,"i":7},{"factor":"purple","ch":2207,"i":19},{"factor":"purple","ch":2213,"i":34},{"factor":"purple","ch":2219,"i":18},{"factor":"purple","ch":2228,"i":24},{"factor":"purple","ch":2232,"i":26},{"factor":"purple","ch":2236,"i":19},{"factor":"purple","ch":2244,"i":14},{"factor":"purple","ch":2250,"i":22},{"factor":"purple","ch":2259,"i":11},{"factor":"purple","ch":2268,"i":3},{"factor":"purple","ch":2276,"i":14},{"factor":"purple","ch":2287,"i":30},{"factor":"purple","ch":2295,"i":14},{"factor":"purple","ch":2301,"i":11},{"factor":"purple","ch":2316,"i":21},{"factor":"purple","ch":2328,"i":8},{"factor":"purple","ch":2368,"i":10},{"factor":"purple","ch":2385,"i":3},{"factor":"purple","ch":2395,"i":14},{"factor":"purple","ch":2408,"i":1},{"factor":"purple","ch":2435,"i":4},{"factor":"purple","ch":2455,"i":10},{"factor":"purple","ch":2469,"i":5},{"factor":"purple","ch":2483,"i":4},
{"factor":"red","ch":645,"i":0},{"factor":"red","ch":672,"i":4},{"factor":"red","ch":690,"i":1},{"factor":"red","ch":710,"i":3},{"factor":"red","ch":733,"i":1},{"factor":"red","ch":753,"i":6},{"factor":"red","ch":767,"i":1},{"factor":"red","ch":783,"i":2},{"factor":"red","ch":793,"i":6},{"factor":"red","ch":803,"i":2},{"factor":"red","ch":820,"i":0},{"factor":"red","ch":850,"i":4},{"factor":"red","ch":863,"i":1},{"factor":"red","ch":893,"i":4},{"factor":"red","ch":907,"i":0},{"factor":"red","ch":990,"i":0},{"factor":"red","ch":1020,"i":2},{"factor":"red","ch":1048,"i":6},{"factor":"red","ch":1070,"i":2},{"factor":"red","ch":1085,"i":5},{"factor":"red","ch":1100,"i":4},{"factor":"red","ch":1130,"i":0},{"factor":"red","ch":1170,"i":7},{"factor":"red","ch":1180,"i":15},{"factor":"red","ch":1192,"i":32},{"factor":"red","ch":1198,"i":28},{"factor":"red","ch":1208,"i":32},{"factor":"red","ch":1220,"i":31},{"factor":"red","ch":1227,"i":25},{"factor":"red","ch":1235,"i":17},{"factor":"red","ch":1248,"i":26},{"factor":"red","ch":1257,"i":18},{"factor":"red","ch":1270,"i":10},{"factor":"red","ch":1287,"i":11},{"factor":"red","ch":1300,"i":11},{"factor":"red","ch":1310,"i":2},{"factor":"red","ch":1323,"i":0},{"factor":"red","ch":1483,"i":2},{"factor":"red","ch":1489,"i":7},{"factor":"red","ch":1495,"i":2},{"factor":"red","ch":1593,"i":8},{"factor":"red","ch":1603,"i":11},{"factor":"red","ch":1613,"i":8},{"factor":"red","ch":1630,"i":1},{"factor":"red","ch":1700,"i":4},{"factor":"red","ch":1716,"i":10},{"factor":"red","ch":1727,"i":3},{"factor":"red","ch":1745,"i":0},{"factor":"red","ch":2060,"i":3},{"factor":"red","ch":2072,"i":8},{"factor":"red","ch":2084,"i":34},{"factor":"red","ch":2089,"i":31},{"factor":"red","ch":2097,"i":34},{"factor":"red","ch":2104,"i":19},{"factor":"red","ch":2112,"i":6},{"factor":"red","ch":2127,"i":1},{"factor":"red","ch":2145,"i":0},
{"factor":"grey","ch":1420,"i":0},{"factor":"grey","ch":1427,"i":3},{"factor":"grey","ch":1435,"i":0},{"factor":"grey","ch":1540,"i":0},{"factor":"grey","ch":1555,"i":5},{"factor":"grey","ch":1570,"i":0},{"factor":"grey","ch":1583,"i":5},{"factor":"grey","ch":1592,"i":0},{"factor":"grey","ch":2155,"i":0},{"factor":"grey","ch":2168,"i":5},{"factor":"grey","ch":2177,"i":23},{"factor":"grey","ch":2186,"i":5},{"factor":"grey","ch":2200,"i":1},{"factor":"grey","ch":2215,"i":4},{"factor":"grey","ch":2229,"i":19},{"factor":"grey","ch":2238,"i":5},{"factor":"grey","ch":2250,"i":1},{"factor":"grey","ch":2295,"i":2},{"factor":"grey","ch":2308,"i":9},{"factor":"grey","ch":2317,"i":37},{"factor":"grey","ch":2325,"i":11},{"factor":"grey","ch":2335,"i":2},{"factor":"grey","ch":2350,"i":3},{"factor":"grey","ch":2360,"i":15},{"factor":"grey","ch":2368,"i":32},{"factor":"grey","ch":2376,"i":14},{"factor":"grey","ch":2385,"i":3},{"factor":"grey","ch":2400,"i":0}]
},
"layer":[
{"data":{"name":"episodes"},"layer":[
{"mark":{"type":"rect"},"encoding":{"x":{"field":"from","type":"quantitative","scale":{"domain":[0,23.05],"range":[0,2279.5],"nice":false,"zero":false},"axis":null},"x2":{"field":"to"},"y":{"datum":-0.3,"type":"quantitative","scale":{"domain":[-1.7,149.3],"nice":false,"zero":false},"axis":null},"y2":{"datum":148.6},"fill":{"field":"episode","type":"nominal","scale":{"domain":["episode 1","episode 2","episode 3","episode 4"],"range":["#DFF3F9","#D2E6EA","#E7C9B0","#F1CF9C"]},"legend":null}}},
{"mark":{"type":"text","fontSize":62,"align":"center","baseline":"alphabetic"},"encoding":{"x":{"field":"labelAt","type":"quantitative","axis":null},"y":{"datum":132.5,"type":"quantitative","axis":null},"text":{"field":"episode","type":"nominal"}}}
]},
{"data":{"name":"bars"},"mark":{"type":"bar","strokeWidth":4.5},"encoding":{
"x":{"field":"sample","type":"ordinal","scale":{"domain":[1,2,3,4,5,6,7,8,9,10,11,12,13,14,15,16,17,18,19,20,21,22,23],"range":[0,2274.7],"paddingInner":0,"paddingOuter":0},"axis":{"labels":false,"tickBand":"extent","tickSize":21,"tickWidth":3.5,"tickColor":"#111111","domainWidth":4.5,"domainColor":"#111111","title":null}},
"xOffset":{"field":"station","type":"nominal","scale":{"domain":["Košetice","Frýdlant","Melpitz"],"paddingInner":0.32,"paddingOuter":0.68}},
"y":{"field":"value","type":"quantitative","stack":null,"scale":{"domain":[-1.7,149.3],"nice":false,"zero":false},"axis":{"orient":"left","values":[0,40,80,120],"tickSize":50,"tickWidth":3.5,"tickColor":"#111111","domainWidth":3.5,"domainColor":"#111111","labelFontSize":70,"labelColor":"black","labelPadding":16,"labelFont":"Liberation Sans","title":null}},
"fill":{"field":"station","type":"nominal","scale":{"domain":["Košetice","Frýdlant","Melpitz"],"range":["#E8807E","#85D2FF","#85E6B5"]},"legend":{"title":null,"orient":"none","legendX":206,"legendY":141,"symbolType":"M-1,-0.6H1V0.6H-1Z","symbolSize":3969,"symbolStrokeWidth":5,"labelFontSize":68,"labelFont":"Liberation Sans","labelColor":"black","labelOffset":60,"labelLimit":500,"rowPadding":32}},
"stroke":{"field":"station","type":"nominal","scale":{"domain":["Košetice","Frýdlant","Melpitz"],"range":["#D00000","#00A8FF","#00CC66"]},"legend":{"title":null}}
}},
{"data":{"name":"minor"},"mark":{"type":"point","opacity":0},"encoding":{"y":{"field":"tick","type":"quantitative","scale":{"domain":[-1.7,149.3],"nice":false,"zero":false},"axis":{"orient":"left","values":[20,60,100,140],"tickSize":27,"tickWidth":3.5,"tickColor":"#111111","labels":false,"domain":false,"title":null}}}},
{"data":{"name":"note"},"layer":[
{"data":{"name":"factors"},"mark":{"type":"area","opacity":0.3,"interpolate":"monotone"},"encoding":{"x":{"field":"ch","type":"quantitative","scale":{"domain":[272,2483],"range":[25,2236],"nice":false,"zero":false},"axis":{"orient":"top","offset":21,"values":[405.7,703,1001,1298,1597,1895,2192.6],"labels":false,"tickSize":-6,"tickWidth":3,"tickColor":"#222222","domainWidth":3,"domainColor":"#555555","title":null}},"y":{"field":"i","type":"quantitative","stack":null,"scale":{"domain":[0,400],"range":[-27,-427],"nice":false,"zero":false},"axis":null},"fill":{"field":"factor","type":"nominal","scale":{"domain":["blue","green","orange","olive","purple","red","grey"],"range":["#2020E8","#1E8C1E","#FF6A30","#8C8C20","#8B1A8B","#F02020","#303030"]},"legend":null}}},
{"data":{"name":"factors"},"mark":{"type":"line","strokeWidth":1.5,"interpolate":"monotone"},"encoding":{"x":{"field":"ch","type":"quantitative"},"y":{"field":"i","type":"quantitative"},"stroke":{"field":"factor","type":"nominal","scale":{"domain":["blue","green","orange","olive","purple","red","grey"],"range":["#2020E8","#1E8C1E","#C04A10","#8A8A25","#8B1A8B","#F02020","#303030"]},"legend":null}}},
{"mark":{"type":"rule","color":"#888888","strokeWidth":1.5},"encoding":{"x":{"datum":272},"x2":{"datum":2483},"y":{"datum":0}}},
{"data":{"name":"total"},"mark":{"type":"line","color":"#111111","strokeWidth":1.8},"encoding":{"x":{"field":"ch","type":"quantitative"},"y":{"field":"i","type":"quantitative"}}},
{"mark":{"type":"rect","fill":"#444444"},"encoding":{"x":{"datum":796},"x2":{"datum":1947},"y":{"datum":382},"y2":{"datum":296}}},
{"mark":{"type":"rect","fill":"white","stroke":"black","strokeWidth":3.5},"encoding":{"x":{"datum":788},"x2":{"datum":1939},"y":{"datum":394},"y2":{"datum":309}}},
{"mark":{"type":"text","text":"NMR aerosolomics of WSOC","fontSize":83,"fontWeight":"bold","align":"center","baseline":"alphabetic"},"encoding":{"x":{"datum":1362},"y":{"datum":319}}},
{"mark":{"type":"point","filled":true,"opacity":1,"fill":"#444444","stroke":null,"size":40000,"shape":"M-0.46,-1.18H0.46V0.27H0.895L0,1.18L-0.895,0.27H-0.46Z"},"encoding":{"x":{"datum":1368},"y":{"datum":127.7}}},
{"mark":{"type":"point","filled":true,"opacity":1,"fill":"#FFFDFD","stroke":"black","strokeWidth":3.5,"size":40000,"shape":"M-0.46,-1.18H0.46V0.27H0.895L0,1.18L-0.895,0.27H-0.46Z"},"encoding":{"x":{"datum":1360},"y":{"datum":140.7}}},
{"mark":{"type":"rect","fill":"#444444"},"encoding":{"x":{"datum":1273},"x2":{"datum":1471},"y":{"datum":-27},"y2":{"datum":-115.7}}},
{"mark":{"type":"rect","fill":"white","stroke":"black","strokeWidth":3.5},"encoding":{"x":{"datum":1265},"x2":{"datum":1464.5},"y":{"datum":-15},"y2":{"datum":-103.4}}},
{"mark":{"type":"text","text":"PMF","fontSize":83,"fontWeight":"bold","align":"center","baseline":"alphabetic"},"encoding":{"x":{"datum":1365},"y":{"datum":-89}}},
{"mark":{"type":"point","filled":true,"opacity":1,"fill":"#444444","stroke":null,"size":40000,"shape":"M-0.46,-1.18H0.46V0.27H0.895L0,1.18L-0.895,0.27H-0.46Z"},"encoding":{"x":{"datum":1368},"y":{"datum":-270.8}}},
{"mark":{"type":"point","filled":true,"opacity":1,"fill":"#FFFDFD","stroke":"black","strokeWidth":3.5,"size":40000,"shape":"M-0.46,-1.18H0.46V0.27H0.895L0,1.18L-0.895,0.27H-0.46Z"},"encoding":{"x":{"datum":1360},"y":{"datum":-257.8}}},
{"mark":{"type":"rect","fill":"#444444"},"encoding":{"x":{"datum":1054},"x2":{"datum":1679},"y":{"datum":-409},"y2":{"datum":-509.5}}},
{"mark":{"type":"rect","fill":"white","stroke":"black","strokeWidth":3.5},"encoding":{"x":{"datum":1046.5},"x2":{"datum":1672},"y":{"datum":-397},"y2":{"datum":-497.7}}},
{"mark":{"type":"text","text":"biogenic factor","fontSize":82.5,"fontWeight":"bold","align":"center","baseline":"alphabetic"},"encoding":{"x":{"datum":1361},"y":{"datum":-476.6}}},
{"mark":{"type":"text","text":"winter","fontSize":60,"align":"center","baseline":"alphabetic"},"encoding":{"x":{"datum":777},"y":{"datum":-594}}},
{"mark":{"type":"text","text":"summer","fontSize":62,"align":"center","baseline":"alphabetic"},"encoding":{"x":{"datum":1972},"y":{"datum":-597}}},
{"mark":{"type":"text","text":"[ng m⁻³]","fontSize":74,"align":"center","baseline":"middle","angle":308},"encoding":{"x":{"datum":205},"y":{"datum":101}}}
]}
],
"resolve":{"scale":{"x":"independent","y":"independent","fill":"independent","stroke":"independent"},"axis":{"x":"independent","y":"independent"},"legend":{"fill":"independent","stroke":"independent"}}}
